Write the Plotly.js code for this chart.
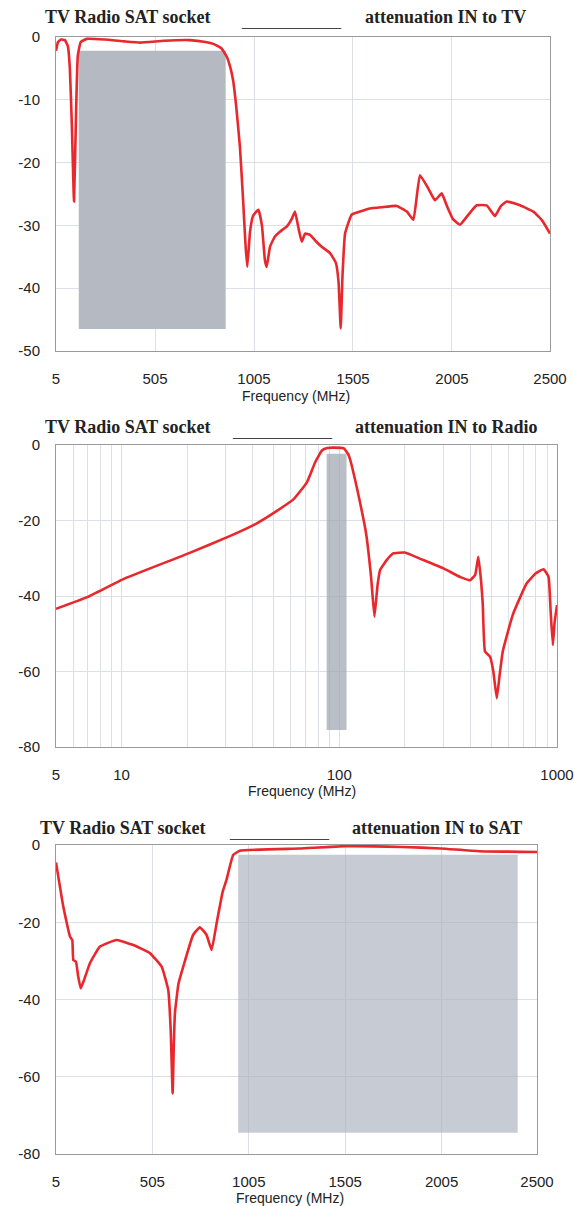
<!DOCTYPE html>
<html>
<head>
<meta charset="utf-8">
<script src="https://cdn.plot.ly/plotly-3.0.1.min.js"></script>
<style>
  html, body { margin: 0; padding: 0; background: #fff; }
  #chart { width: 574px; height: 1206px; }
</style>
</head>
<body>
<div id="chart"></div>
<script>
// ---------- Data: attenuation IN to TV ----------
const tvFreq = [5, 15, 30, 50, 65, 75, 85, 96, 105, 115, 130, 160, 250, 350, 430, 550, 680, 760, 800, 840, 867, 885, 900, 915, 934, 950, 962, 971, 985, 1000, 1027, 1045, 1060, 1069, 1086, 1110, 1136, 1170, 1195, 1212, 1230, 1246, 1263, 1288, 1320, 1347, 1389, 1419, 1432, 1443, 1452, 1465, 1498, 1550, 1591, 1650, 1726, 1777, 1810, 1843, 1885, 1919, 1953, 1978, 2010, 2045, 2090, 2130, 2180, 2222, 2250, 2281, 2348, 2416, 2460, 2500];
const tvAtt  = [-2.2, -0.8, -0.4, -0.5, -1.5, -5, -14, -26.2, -14, -3, -0.8, -0.3, -0.4, -0.7, -0.9, -0.6, -0.5, -0.8, -1.1, -1.8, -3.1, -4.8, -7, -11, -17.5, -26, -33, -36.6, -31, -28.5, -27.5, -30, -35.5, -36.6, -33.4, -31.8, -31.0, -30.2, -29, -27.8, -30.5, -32.6, -31.3, -31.5, -32.6, -33.4, -34.4, -36.0, -39, -46.4, -38, -31.3, -28.3, -27.7, -27.3, -27.1, -26.9, -27.8, -29.1, -22.0, -24.1, -26.0, -24.9, -26.8, -29.0, -29.9, -28.2, -26.8, -26.8, -28.5, -27.0, -26.2, -26.8, -27.8, -29.2, -31.3];
const tvBandFreq = [120, 862];
const tvBandAtt  = [-2.2, -46.5];

// ---------- Data: attenuation IN to Radio ----------
const radioFreq = [5, 6.96, 10.3, 20.3, 31.2, 41.6, 51.5, 61.6, 71, 77.6, 83.4, 88, 94.4, 105, 110, 113, 118, 123.6, 132.7, 140, 145, 150, 154, 165, 177, 200, 239, 301, 360, 399, 421, 435, 448, 456, 467, 493, 510, 529, 545, 564, 628, 725, 800, 867, 914, 935, 957, 975, 1000];
const radioAtt  = [-43.4, -40.3, -35.4, -28.7, -24.2, -20.8, -17.5, -14.4, -9.9, -4.5, -1.4, -0.8, -0.7, -0.9, -2.5, -4.5, -9, -14.3, -23.3, -35, -45.5, -37, -33.1, -30.5, -28.7, -28.5, -30.3, -32.7, -35.0, -35.8, -34.4, -29.6, -36, -42.1, -54.7, -56.1, -60, -67.1, -61, -54.6, -44.8, -36.7, -34.0, -32.9, -34.9, -44, -53, -47, -42.4];
const radioBandFreq = [87.5, 108];
const radioBandAtt  = [-2.3, -75.5];
const radioGridVals  = [5, 6, 7, 8, 9, 10, 20, 30, 40, 50, 60, 70, 80, 90, 100, 200, 300, 400, 500, 600, 700, 800, 900, 1000];
const radioLabelVals = [5, 10, 100, 1000];

// ---------- Data: attenuation IN to SAT ----------
const satFreq = [5, 43, 77.5, 89.5, 95, 108.6, 120, 133, 150, 181, 233, 319, 406, 492, 553, 587, 600, 610, 616, 622, 640, 665, 716, 751, 786, 812, 838, 870, 889, 924, 958, 1269, 1505, 1800, 2000, 2200, 2500];
const satAtt  = [-4.5, -16, -23.7, -24.6, -29.8, -30.2, -34, -37.1, -35, -30.6, -26.3, -24.6, -25.9, -28.0, -31.5, -37.5, -48, -64.3, -52, -43.5, -36, -31.5, -23.3, -21.3, -23.3, -27.2, -20.3, -12, -9.1, -2.6, -1.5, -0.9, -0.3, -0.5, -0.9, -1.6, -1.8];
const satBandFreq = [950, 2400];
const satBandAtt  = [-2.5, -74.5];

// ---------- Tick labels ----------
const linTickVals  = [5, 505, 1005, 1505, 2005, 2500];
const linTickText  = ['5', '505', '1005', '1505', '2005', '2500'];
const tvYVals      = [0, -10, -20, -30, -40, -50];
const tvYText      = ['0', '-10', '-20', '-30', '-40', '-50'];
const deepYVals    = [0, -20, -40, -60, -80];
const deepYText    = ['0', '-20', '-40', '-60', '-80'];

const titleLeft  = 'TV Radio SAT socket';
const titleRule  = '___________';
const titleRight = ['attenuation IN to TV', 'attenuation IN to Radio', 'attenuation IN to SAT'];
const xTitle = 'Frequency (MHz)';

// ---------- Styling / layout ----------
const W = 574, H = 1206;
const RED = '#e8282d';
const GRID = '#dcdfe5';
const BORDER = '#9a9a9a';
const tickFont = {family: 'Liberation Sans, Arial, sans-serif', size: 15, color: '#222'};

function px(x) { return x / W; }
function py(y) { return 1 - y / H; }

function bandTrace(f, a, xa, ya, color) {
  return {
    x: [f[0], f[1], f[1], f[0], f[0]],
    y: [a[0], a[0], a[1], a[1], a[0]],
    xaxis: xa, yaxis: ya, type: 'scatter', mode: 'lines',
    fill: 'toself', fillcolor: color, line: {width: 0}, hoverinfo: 'skip', showlegend: false
  };
}
function lineTrace(x, y, xa, ya) {
  return {x: x, y: y, xaxis: xa, yaxis: ya, type: 'scatter', mode: 'lines',
          line: {color: RED, width: 2.6, shape: 'spline', smoothing: 0.35}, showlegend: false};
}

const data = [
  bandTrace(tvBandFreq, tvBandAtt, 'x', 'y', '#b5bac2'),
  lineTrace(tvFreq, tvAtt, 'x', 'y'),
  bandTrace(radioBandFreq, radioBandAtt, 'x2', 'y2', 'rgba(160,166,177,0.72)'),
  lineTrace(radioFreq, radioAtt, 'x2', 'y2'),
  bandTrace(satBandFreq, satBandAtt, 'x3', 'y3', 'rgba(170,176,188,0.66)'),
  lineTrace(satFreq, satAtt, 'x3', 'y3')
];

function xAxis(domain, anchor, extra) {
  return Object.assign({
    domain: domain, anchor: anchor,
    showline: true, mirror: true, linecolor: BORDER, linewidth: 1,
    showgrid: true, gridcolor: GRID, gridwidth: 1, zeroline: false,
    ticks: '', tickfont: tickFont, ticklabelstandoff: 14, fixedrange: true
  }, extra);
}
function yAxis(domain, anchor, extra) {
  return Object.assign({
    domain: domain, anchor: anchor,
    showline: true, mirror: true, linecolor: BORDER, linewidth: 1,
    showgrid: true, gridcolor: GRID, gridwidth: 1, zeroline: false,
    ticks: '', tickfont: tickFont, ticklabelstandoff: 12, fixedrange: true
  }, extra);
}

const radioTickText = radioGridVals.map(v => radioLabelVals.includes(v) ? String(v) : '');

const layout = {
  width: W, height: H,
  margin: {l: 0, r: 0, t: 0, b: 0},
  paper_bgcolor: '#fff', plot_bgcolor: '#fff',
  showlegend: false,
  xaxis: xAxis([px(56), px(550)], 'y', {type: 'linear', range: [5, 2500], tickvals: linTickVals, ticktext: linTickText}),
  yaxis: yAxis([py(351), py(37)], 'x', {range: [-50, 0], tickvals: tvYVals, ticktext: tvYText}),
  xaxis2: xAxis([px(56), px(557)], 'y2', {type: 'log', range: [Math.log10(5), 3], tickvals: radioGridVals, ticktext: radioTickText}),
  yaxis2: yAxis([py(747), py(445)], 'x2', {range: [-80, 0], tickvals: deepYVals, ticktext: deepYText}),
  xaxis3: xAxis([px(56), px(537)], 'y3', {type: 'linear', range: [5, 2500], tickvals: linTickVals, ticktext: linTickText}),
  yaxis3: yAxis([py(1154), py(845)], 'x3', {range: [-80, 0], tickvals: deepYVals, ticktext: deepYText}),
  annotations: []
};

const titleFont = {family: 'Liberation Serif, Times New Roman, serif', size: 18, color: '#222', weight: 'bold'};
const titleSpec = [
  {y: 17, left: 43, rule: 291, right: 363},
  {y: 427, left: 43, rule: 282, right: 353},
  {y: 828, left: 38, rule: 279, right: 350}
];
titleSpec.forEach((t, i) => {
  layout.annotations.push({xref: 'paper', yref: 'paper', x: px(t.left), y: py(t.y), xanchor: 'left', yanchor: 'middle',
    text: '<b>' + titleLeft + '</b>', showarrow: false, font: titleFont});
  layout.annotations.push({xref: 'paper', yref: 'paper', x: px(t.rule), y: py(t.y + 4), xanchor: 'center', yanchor: 'middle',
    text: titleRule, showarrow: false, font: {family: 'Liberation Serif, serif', size: 18, color: '#444'}});
  layout.annotations.push({xref: 'paper', yref: 'paper', x: px(t.right), y: py(t.y), xanchor: 'left', yanchor: 'middle',
    text: '<b>' + titleRight[i] + '</b>', showarrow: false, font: titleFont});
});
const xTitleSpec = [{x: 296, y: 396}, {x: 302, y: 791}, {x: 290, y: 1198}];
xTitleSpec.forEach(t => {
  layout.annotations.push({xref: 'paper', yref: 'paper', x: px(t.x), y: py(t.y), xanchor: 'center', yanchor: 'middle',
    text: xTitle, showarrow: false, font: {family: 'Liberation Sans, Arial, sans-serif', size: 14, color: '#222'}});
});

Plotly.newPlot('chart', data, layout, {staticPlot: true, displayModeBar: false});
</script>
</body>
</html>
